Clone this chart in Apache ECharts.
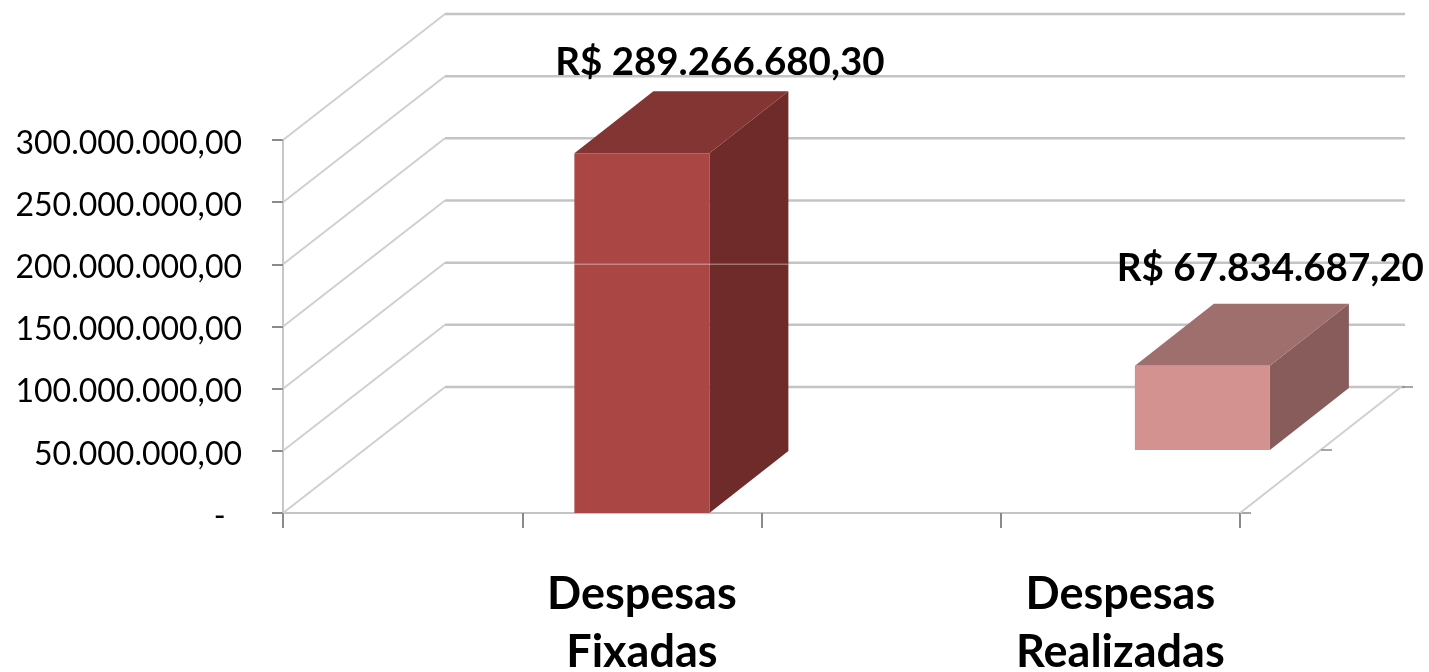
<!DOCTYPE html>
<html>
<head>
<meta charset="utf-8">
<style>
  html, body { margin: 0; background: #fff; }
  #chart { width: 1429px; height: 672px; }
</style>
<script src="https://cdn.jsdelivr.net/npm/echarts@6/dist/echarts.min.js"></script>
</head>
<body>
<div id="chart"></div>
<script>
const categories = ["", "Despesas\nFixadas", "", "Despesas\nRealizadas"];
const yTicks = [0, 50000000, 100000000, 150000000, 200000000, 250000000, 300000000];
const yTickLabels = ["-  ", "50.000.000,00", "100.000.000,00", "150.000.000,00", "200.000.000,00", "250.000.000,00", "300.000.000,00"];
const barCategoryIndex = [1, 3];
const barValues = [289266680.3, 67834687.2];
const barDepthRow = [0, 1];
const barLabels = ["R$ 289.266.680,30", "R$ 67.834.687,20"];

// fake 3D: the wall sits one full depth behind the axes, bars are half as deep
const WALL_DX = 162, WALL_DY = -126;
const BAR_DX = 79, BAR_DY = -62;
const ROW_DX = 82, ROW_DY = -63;
const BAR_WIDTH = 135;
const FONT = "Lato, 'Open Sans', sans-serif";
const GRID_LINE = "#c4c4c4";
const TICK = "#8a8a8a";

const barFaces = [
  { front: "#aa4643", side: "#6e2b29", top: "#833533" },
  { front: "#d39190", side: "#875c5a", top: "#9f6f6d" }
];
const labelOffsets = [[78, -91], [68, -97]];

function line(x1, y1, x2, y2, stroke, lineWidth) {
  return { type: "line", shape: { x1, y1, x2, y2 }, style: { stroke, lineWidth } };
}

function renderWall(params, api) {
  const p = api.coord([0, api.value(1)]);
  const x = params.coordSys.x;
  const width = params.coordSys.width;
  const bx = x + WALL_DX;
  const by = p[1] + WALL_DY;
  return {
    type: "group",
    children: [
      line(x, p[1], bx, by, "#d0d0d0", 2),
      line(bx, by, bx + width + 3, by, GRID_LINE, 2.5)
    ]
  };
}

function renderFloorEdge(params, api) {
  const row = api.value(0);
  const x = params.coordSys.x + params.coordSys.width + row * 81;
  const y = params.coordSys.y + params.coordSys.height + row * -63;
  const children = [line(x, y, x + 11, y, TICK, 1.5)];
  if (row === 0) children.push(line(x, y, x + WALL_DX - 1, y + WALL_DY, "#d0d0d0", 2));
  return { type: "group", children };
}

function renderBar(params, api) {
  const i = params.dataIndex;
  const row = barDepthRow[i];
  const faces = barFaces[i];
  const top = api.coord([api.value(0), api.value(1)]);
  const base = api.coord([api.value(0), 0]);
  const xl = top[0] - BAR_WIDTH / 2 + row * ROW_DX;
  const xr = xl + BAR_WIDTH;
  const yt = top[1] + row * ROW_DY;
  const yb = base[1] + row * ROW_DY;
  const off = labelOffsets[i];
  return {
    type: "group",
    children: [
      { type: "polygon", shape: { points: [[xr, yt], [xr + BAR_DX, yt + BAR_DY], [xr + BAR_DX, yb + BAR_DY], [xr, yb]] }, style: { fill: faces.side } },
      { type: "polygon", shape: { points: [[xl, yt], [xl + BAR_DX, yt + BAR_DY], [xr + BAR_DX, yt + BAR_DY], [xr, yt]] }, style: { fill: faces.top } },
      { type: "rect", shape: { x: xl, y: yt, width: BAR_WIDTH, height: yb - yt }, style: { fill: faces.front } },
      {
        type: "text",
        style: {
          x: (xl + xr) / 2 + off[0], y: yt + off[1],
          text: barLabels[i], align: "center", verticalAlign: "middle",
          font: "bold 38.5px " + FONT, fill: "#000"
        }
      }
    ]
  };
}

// the picture has a faint pale seam running across the tall bar at the 200M level
function renderSeam(params, api) {
  const p = api.coord([api.value(0), api.value(1)]);
  const xl = p[0] - BAR_WIDTH / 2;
  return line(xl, p[1], xl + BAR_WIDTH + BAR_DX, p[1], "rgba(255,255,255,0.35)", 1.5);
}

const chart = echarts.init(document.getElementById("chart"));
chart.setOption({
  animation: false,
  backgroundColor: "#fff",
  grid: { left: 283, top: 140, width: 957, height: 373, outerBoundsMode: "none" },
  xAxis: {
    type: "category",
    data: categories,
    axisLine: { lineStyle: { color: "#c4c4c4", width: 2 } },
    axisTick: { show: true, length: 15, interval: 0, lineStyle: { color: TICK, width: 2 } },
    axisLabel: { interval: 0, margin: 52, fontFamily: FONT, fontWeight: "bold", fontSize: 45, lineHeight: 58, color: "#000" }
  },
  yAxis: {
    type: "value",
    min: 0,
    max: 300000000,
    interval: 50000000,
    splitLine: { show: false },
    axisLine: { show: true, lineStyle: { color: "#b4b4b4", width: 1.5 } },
    axisTick: { show: true, length: 11, lineStyle: { color: TICK, width: 2 } },
    axisLabel: {
      margin: 41,
      formatter: (value, index) => "{tick|" + yTickLabels[index] + "}",
      rich: {
        tick: { fontFamily: FONT, fontSize: 32, color: "#000", padding: [7, 0, 0, 0] }
      }
    }
  },
  series: [
    {
      type: "custom",
      z: 1,
      silent: true,
      clip: false,
      renderItem: renderWall,
      data: yTicks.map((v) => [0, v])
    },
    {
      type: "custom",
      z: 1,
      silent: true,
      clip: false,
      renderItem: renderFloorEdge,
      data: [[0, 0], [1, 0], [2, 0]]
    },
    {
      type: "custom",
      z: 3,
      silent: true,
      clip: false,
      renderItem: renderBar,
      data: barCategoryIndex.map((c, i) => [c, barValues[i]])
    },
    {
      type: "custom",
      z: 4,
      silent: true,
      clip: false,
      renderItem: renderSeam,
      data: [[barCategoryIndex[0], yTicks[4]]]
    }
  ]
});
</script>
</body>
</html>
